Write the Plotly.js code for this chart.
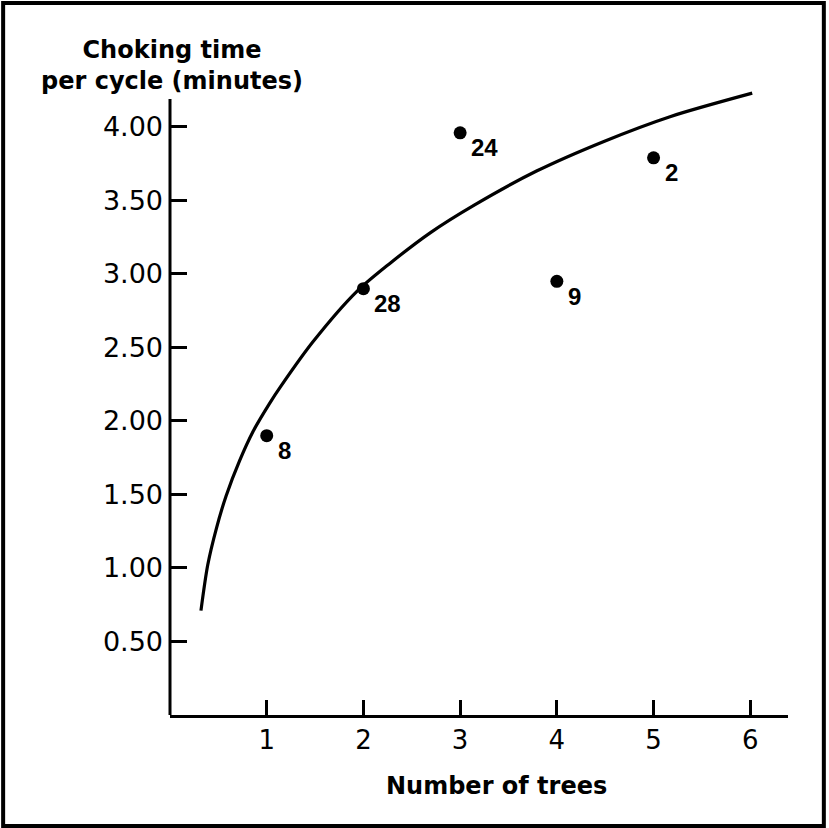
<!DOCTYPE html>
<html>
<head>
<meta charset="utf-8">
<script src="https://cdn.plot.ly/plotly-3.0.1.min.js"></script>
<style>
  html, body { margin: 0; padding: 0; background: #ffffff; }
  #chart { width: 829px; height: 828px; }
</style>
</head>
<body>
<div id="chart"></div>
<script>
// Observed points: number of trees vs choking time per cycle (minutes)
const pointTrees = [1, 2, 3, 4, 5];
const pointChoke = [1.90, 2.90, 3.96, 2.95, 3.79];
const pointLabels = ["8", "28", "24", "9", "2"];

// Fitted curve
const curveTrees = [0.32, 0.39, 0.48, 0.58, 0.72, 0.86, 1.03, 1.14, 1.48, 1.93, 2.27, 2.69, 3.15, 3.79, 4.48, 5.17, 6.02];
const curveChoke = [0.71, 1.02, 1.27, 1.49, 1.73, 1.93, 2.12, 2.23, 2.54, 2.88, 3.07, 3.28, 3.47, 3.70, 3.90, 4.07, 4.23];

// Axis ticks
const xTickVals = [1, 2, 3, 4, 5, 6];
const yTickVals = [0.5, 1.0, 1.5, 2.0, 2.5, 3.0, 3.5, 4.0];
const yTickText = ["0.50", "1.00", "1.50", "2.00", "2.50", "3.00", "3.50", "4.00"];
const yAxisTop = 4.19;

const curve = {
  x: curveTrees, y: curveChoke,
  type: 'scatter', mode: 'lines',
  line: { color: '#000000', width: 3.2, shape: 'spline', smoothing: 0.8 },
  hoverinfo: 'skip', showlegend: false
};
const points = {
  x: pointTrees, y: pointChoke,
  type: 'scatter', mode: 'markers',
  marker: { color: '#000000', size: 13 },
  showlegend: false
};

const labelAnnotations = pointTrees.map((t, i) => ({
  x: t, y: pointChoke[i], xref: 'x', yref: 'y',
  text: pointLabels[i], showarrow: false,
  xanchor: 'left', yanchor: 'middle', xshift: 9, yshift: -15,
  font: { family: 'Liberation Sans, Arial, sans-serif', size: 24, color: '#000000', weight: 'bold' }
}));

const layout = {
  width: 829, height: 828,
  margin: { l: 170, r: 41, t: 88, b: 113 },
  paper_bgcolor: '#ffffff', plot_bgcolor: '#ffffff',
  font: { family: 'DejaVu Sans, sans-serif', color: '#000000' },
  xaxis: {
    range: [0, 6.39], showgrid: false, zeroline: false,
    showline: true, linecolor: '#000000', linewidth: 3,
    ticks: 'inside', ticklen: 15, tickwidth: 3, tickcolor: '#000000',
    tickvals: xTickVals, ticktext: xTickVals.map(String),
    tickfont: { size: 26, color: '#000000' },
    ticklabelstandoff: 0
  },
  yaxis: {
    range: [0, 4.265], showgrid: false, zeroline: false,
    showline: false,
    ticks: 'inside', ticklen: 17, tickwidth: 3, tickcolor: '#000000',
    tickvals: yTickVals, ticktext: yTickText,
    tickfont: { size: 27, color: '#000000' },
    ticklabelstandoff: 6
  },
  annotations: [
    {
      xref: 'paper', yref: 'paper', x: 0.003, y: 1.036,
      xanchor: 'center', yanchor: 'middle', showarrow: false,
      text: 'Choking time<br>per cycle (minutes)', align: 'center',
      font: { size: 24, color: '#000000', weight: 'bold' }
    },
    {
      xref: 'paper', yref: 'paper', x: 0.529, y: -0.113,
      xanchor: 'center', yanchor: 'middle', showarrow: false,
      text: 'Number of trees',
      font: { size: 24, color: '#000000', weight: 'bold' }
    }
  ].concat(labelAnnotations),
  shapes: [
    {
      type: 'line', xref: 'paper', yref: 'y',
      x0: 0, x1: 0, y0: 0, y1: yAxisTop,
      line: { color: '#000000', width: 3 }
    },
    {
      type: 'rect', xref: 'paper', yref: 'paper',
      x0: -0.270, x1: 1.058, y0: -0.177, y1: 1.1356,
      line: { color: '#000000', width: 4 }, fillcolor: 'rgba(0,0,0,0)'
    }
  ]
};

Plotly.newPlot('chart', [curve, points], layout, { displayModeBar: false, staticPlot: true });
</script>
</body>
</html>
